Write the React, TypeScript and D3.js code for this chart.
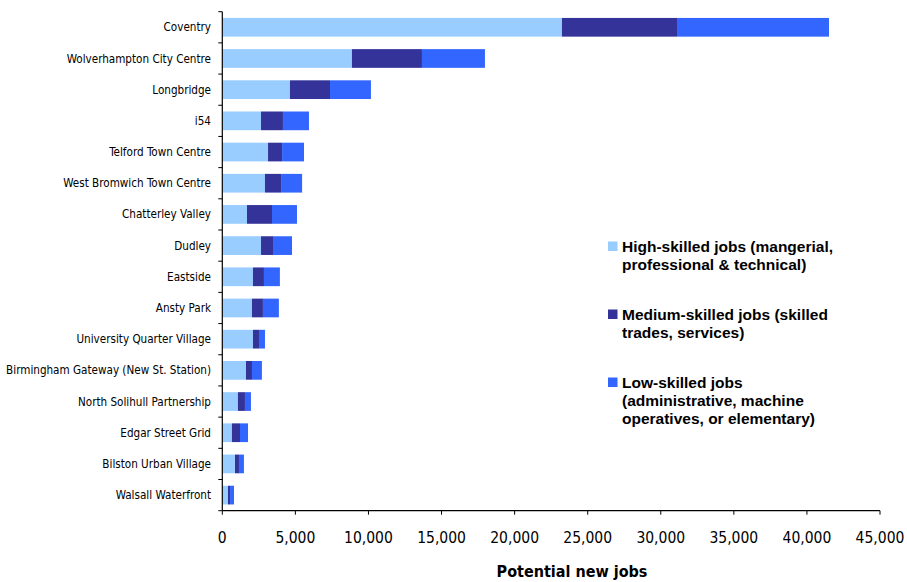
import React from "react";
import * as d3 from "d3";

const categories = [
  "Coventry",
  "Wolverhampton City Centre",
  "Longbridge",
  "i54",
  "Telford Town Centre",
  "West Bromwich Town Centre",
  "Chatterley Valley",
  "Dudley",
  "Eastside",
  "Ansty Park",
  "University Quarter Village",
  "Birmingham Gateway (New St. Station)",
  "North Solihull Partnership",
  "Edgar Street Grid",
  "Bilston Urban Village",
  "Walsall Waterfront",
];
const highSkilled = [23240, 8870, 4630, 2650, 3130, 2920, 1690, 2650, 2100, 2030, 2100, 1620, 1070, 660, 870, 390];
const mediumSkilled = [7870, 4790, 2740, 1500, 960, 1100, 1710, 820, 750, 750, 410, 410, 480, 550, 270, 140];
const lowSkilled = [10400, 4310, 2800, 1780, 1500, 1440, 1710, 1300, 1090, 1090, 410, 680, 410, 550, 340, 270];
const xTicks = [0, 5000, 10000, 15000, 20000, 25000, 30000, 35000, 40000, 45000];
const seriesNames = ["high", "medium", "low"];
const seriesColors = ["#99CCFF", "#333399", "#3366FF"];
const legendLines = [
  ["High-skilled jobs (mangerial,", "professional & technical)"],
  ["Medium-skilled jobs (skilled", "trades, services)"],
  ["Low-skilled jobs", "(administrative, machine", "operatives, or elementary)"],
];
const xTitle = "Potential new jobs";

const W = 907;
const H = 582;
const left = 222.3;
const right = 880;
const top = 11.7;
const bottom = 510.7;

export default function App() {
  const x = d3.scaleLinear().domain([0, 45000]).range([left, right]);
  const y = d3.scaleBand().domain(categories).range([top, bottom]).paddingInner(0.4).paddingOuter(0.2);
  const yTickScale = d3.scaleLinear().domain([0, categories.length]).range([top, bottom]);
  const rows = categories.map((c, i) => ({
    cat: c,
    high: highSkilled[i],
    medium: mediumSkilled[i],
    low: lowSkilled[i],
  }));
  const stacked = d3.stack<any>().keys(seriesNames)(rows);
  const fmt = d3.format(",");
  const labelFont = "'DejaVu Sans Condensed', 'DejaVu Sans', sans-serif";
  const legendTop = [252, 320, 388];
  return (
    <svg width={W} height={H} style={{ position: "absolute", left: 0, top: 0, background: "#fff" }}>
      <rect x={0} y={0} width={W} height={H} fill="#fff" />
      {stacked.map((s, si) => (
        <g key={si} fill={seriesColors[si]}>
          {s.map((d: any, i: number) => (
            <rect
              key={i}
              x={x(d[0])}
              y={y(categories[i])}
              width={x(d[1]) - x(d[0])}
              height={y.bandwidth()}
            />
          ))}
        </g>
      ))}
      {/* y axis */}
      <line x1={left} x2={left} y1={top} y2={bottom} stroke="#000" strokeWidth={1.2} />
      {d3.range(categories.length + 1).map((i) => (
        <line key={i} x1={left - 4} x2={left} y1={yTickScale(i)} y2={yTickScale(i)} stroke="#000" strokeWidth={1} />
      ))}
      {categories.map((c) => (
        <text
          key={c}
          x={211}
          y={(y(c) as number) + y.bandwidth() / 2}
          dy="0.35em"
          textAnchor="end"
          fontFamily={labelFont}
          fontSize={11.6}
          fill="#000"
        >
          {c}
        </text>
      ))}
      {/* x axis */}
      <line x1={left} x2={right} y1={bottom} y2={bottom} stroke="#000" strokeWidth={1.2} />
      {xTicks.map((t) => (
        <g key={t}>
          <line x1={x(t)} x2={x(t)} y1={bottom} y2={bottom + 4} stroke="#000" />
          <text x={x(t)} y={543} textAnchor="middle" fontFamily={labelFont} fontSize={15.5} fill="#000">
            {fmt(t)}
          </text>
        </g>
      ))}
      <text x={572} y={577} textAnchor="middle" fontFamily={labelFont} fontWeight="bold" fontSize={16} fill="#000">
        {xTitle}
      </text>
      {/* legend */}
      {legendLines.map((lines, li) => (
        <g key={li}>
          <rect x={608} y={legendTop[li] - 10.5} width={9.5} height={9.5} fill={seriesColors[li]} />
          {lines.map((ln, k) => (
            <text
              key={k}
              x={622}
              y={legendTop[li] + k * 18}
              fontFamily="'Liberation Sans', Arial, sans-serif"
              fontWeight="bold"
              fontSize={15.5}
              fill="#000"
            >
              {ln}
            </text>
          ))}
        </g>
      ))}
    </svg>
  );
}
